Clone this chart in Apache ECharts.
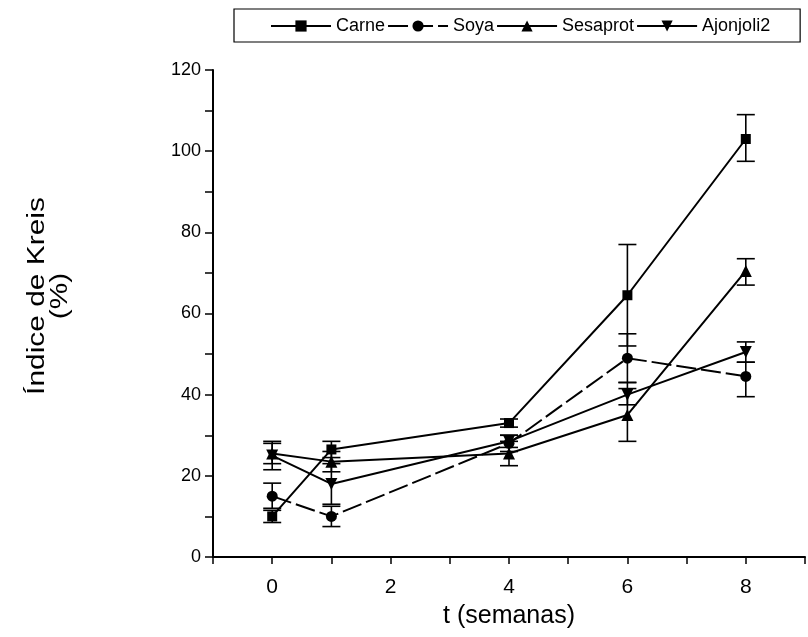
<!DOCTYPE html>
<html>
<head>
<meta charset="utf-8">
<script src="https://cdn.jsdelivr.net/npm/echarts@6/dist/echarts.min.js"></script>
<style>html,body{margin:0;padding:0;background:#fff}#chart{width:808px;height:637px}</style>
</head>
<body>
<div id="chart"></div>
<script>
// Sampling times (weeks)
const weeks = [0, 1, 4, 6, 8];
const xTicks = [0, 2, 4, 6, 8];
const yTicks = [0, 20, 40, 60, 80, 100, 120];

// Kreis index (%) per diet, with lower / upper error limits
const carne = [10, 26.5, 33, 64.5, 103];
const carneLo = [8.5, 24.5, 32, 52, 97.5];
const carneHi = [11.5, 28.5, 34, 77, 109];

const soya = [15, 10, 28, 49, 44.5];
const soyaLo = [12, 7.5, 26, 43, 39.5];
const soyaHi = [18.2, 12.5, 30, 55, 48];

const sesaprot = [25.5, 23.5, 25.5, 35, 70.5];
const sesaprotLo = [23, 21, 22.5, 28.5, 67];
const sesaprotHi = [28, 26, 28.5, 41.5, 73.5];

const ajonjoli = [25, 18, 28.5, 40, 50.5];
const ajonjoliLo = [21.5, 13, 27, 37.5, 48];
const ajonjoliHi = [28.5, 23, 30, 43, 53];

const seriesDefs = [
  { name: 'Carne', vals: carne, lo: carneLo, hi: carneHi, symbol: 'rect', size: 10, dash: 'solid' },
  { name: 'Soya', vals: soya, lo: soyaLo, hi: soyaHi, symbol: 'circle', size: 11, dash: [20, 5] },
  { name: 'Sesaprot', vals: sesaprot, lo: sesaprotLo, hi: sesaprotHi, symbol: 'triangle', size: 12, dash: 'solid' },
  { name: 'Ajonjoli2', vals: ajonjoli, lo: ajonjoliLo, hi: ajonjoliHi, symbol: 'path://M0,0 L10,0 L5,10 Z', size: 12, dash: 'solid' }
];

const font = '"Liberation Sans", Arial, Helvetica, sans-serif';

function errorBar(params, api) {
  const x = api.value(0);
  const p1 = api.coord([x, api.value(1)]);
  const p2 = api.coord([x, api.value(2)]);
  const hw = 9;
  const st = { stroke: '#000', lineWidth: 1.6 };
  return {
    type: 'group',
    children: [
      { type: 'line', shape: { x1: p1[0], y1: p1[1], x2: p2[0], y2: p2[1] }, style: st },
      { type: 'line', shape: { x1: p1[0] - hw, y1: p1[1], x2: p1[0] + hw, y2: p1[1] }, style: st },
      { type: 'line', shape: { x1: p2[0] - hw, y1: p2[1], x2: p2[0] + hw, y2: p2[1] }, style: st }
    ]
  };
}

const series = [];
seriesDefs.forEach(d => {
  series.push({
    name: d.name,
    type: 'line',
    data: weeks.map((w, i) => [w, d.vals[i]]),
    symbol: d.symbol,
    symbolSize: d.size,
    itemStyle: { color: '#000' },
    lineStyle: { color: '#000', width: 2, type: d.dash },
    z: 3
  });
  series.push({
    name: d.name + '-err',
    type: 'custom',
    renderItem: errorBar,
    data: weeks.map((w, i) => [w, d.lo[i], d.hi[i]]),
    z: 2,
    silent: true
  });
});

const chart = echarts.init(document.getElementById('chart'), null, { renderer: 'canvas' });
chart.setOption({
  animation: false,
  backgroundColor: '#fff',
  legend: {
    data: seriesDefs.map(d => d.name),
    left: 234,
    top: 9,
    width: 540,
    padding: [8, 30, 7, 36],
    itemGap: 2,
    itemWidth: 60,
    itemHeight: 14,
    borderColor: '#000',
    borderWidth: 1.2,
    lineStyle: { width: 2, color: '#000' },
    textStyle: { fontFamily: font, fontSize: 18, color: '#000' }
  },
  graphic: [
    {
      type: 'text', x: 38, y: 296, rotation: Math.PI / 2, scaleX: 1.3,
      style: { text: 'Índice de Kreis', font: '23px ' + font, fill: '#000', textAlign: 'center', textVerticalAlign: 'middle' }
    },
    {
      type: 'text', x: 61, y: 296, rotation: Math.PI / 2, scaleX: 1.3,
      style: { text: '(%)', font: '23px ' + font, fill: '#000', textAlign: 'center', textVerticalAlign: 'middle' }
    }
  ],
  grid: { left: 213, right: -4, top: 70, bottom: 80, containLabel: false },
  xAxis: {
    type: 'value',
    min: -1,
    max: 9,
    interval: 1,
    name: 't (semanas)',
    nameLocation: 'middle',
    nameGap: 47,
    nameTextStyle: { fontFamily: font, fontSize: 25, color: '#000' },
    axisLine: { onZero: false, lineStyle: { color: '#000', width: 2 } },
    axisTick: { length: 7, lineStyle: { color: '#000', width: 1.5 } },
    axisLabel: {
      fontFamily: font, fontSize: 21, color: '#000', margin: 20,
      formatter: v => (xTicks.indexOf(v) >= 0 ? String(v) : '')
    },
    splitLine: { show: false }
  },
  yAxis: {
    type: 'value',
    min: 0,
    max: 120,
    interval: 10,
    axisLine: { onZero: false, lineStyle: { color: '#000', width: 2 } },
    axisTick: { length: 8, lineStyle: { color: '#000', width: 1.5 } },
    axisLabel: {
      fontFamily: font, fontSize: 18, color: '#000', margin: 12,
      formatter: v => (yTicks.indexOf(v) >= 0 ? String(v) : '')
    },
    splitLine: { show: false }
  },
  series: series
});
</script>
</body>
</html>
